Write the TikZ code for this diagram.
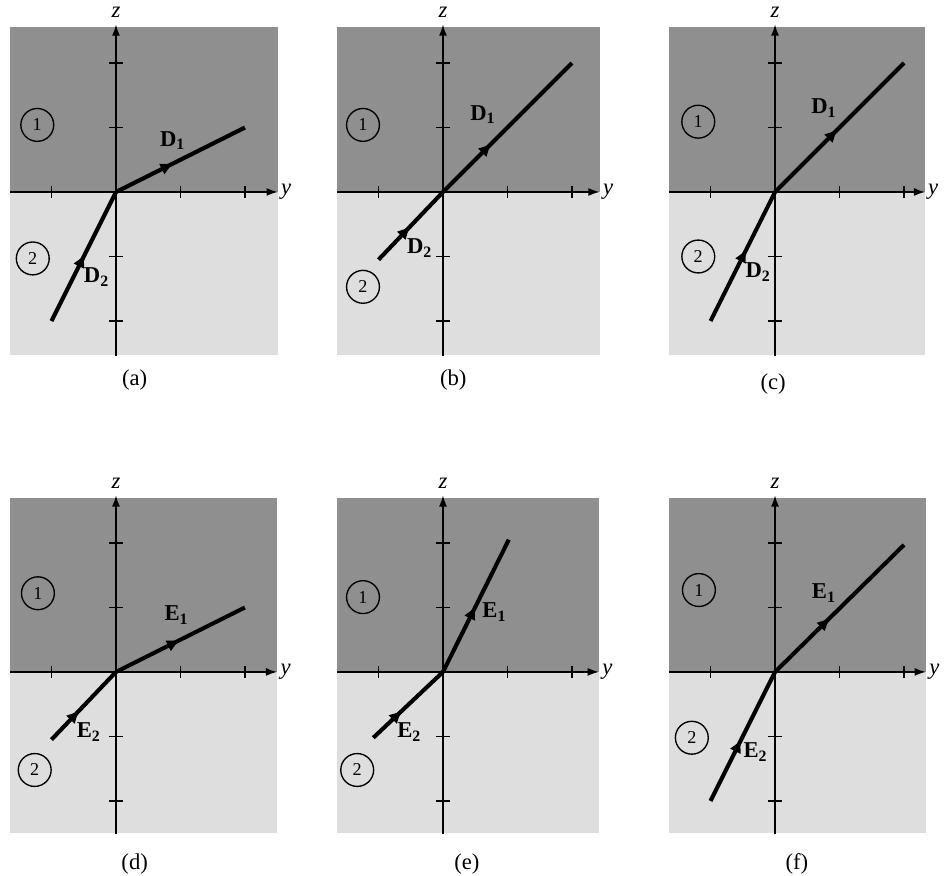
\documentclass[tikz,border=0pt]{standalone}
\usepackage{fontspec}
\setmainfont{Liberation Serif}
\usetikzlibrary{arrows.meta,decorations.markings}

\definecolor{medone}{gray}{0.56}
\definecolor{medtwo}{gray}{0.87}

\tikzset{
  axis/.style={line width=0.75pt, -{Latex[length=5pt,width=3.5pt]}},
  tickmark/.style={line width=0.6pt},
  fline/.style={line width=1.8pt, postaction={decorate},
    decoration={markings, mark=at position #1 with {\arrow{Latex[length=6pt,width=5.5pt]}}}},
  fline/.default=0.5,
  axlabel/.style={font=\itshape, inner sep=1pt},
  vec/.style={font=\bfseries, inner sep=1pt},
  region/.style={draw, circle, line width=0.6pt, minimum size=14.5pt, inner sep=0pt, font=\footnotesize},
  caption/.style={inner sep=1pt}
}

\begin{document}
\begin{tikzpicture}
  \useasboundingbox (0,0) rectangle (14.729,13.581);

  % panel (a)
  \begin{scope}[shift={(1.798,10.604)}]
    \fill[medone] (-1.64,0) rectangle (2.51,2.56);
    \fill[medtwo] (-1.64,-2.53) rectangle (2.51,0);
    \draw[axis] (-1.64,0) -- (2.51,0);
    \draw[axis] (0,-2.55) -- (0,2.6);
    \foreach \t in {-1,1,2} \draw[tickmark] (\t,-0.09) -- (\t,0.09);
    \foreach \t in {-2,-1,1,2} \draw[tickmark] (-0.11,\t) -- (0.11,\t);
    \node[axlabel] (a-y) at (2.64,0) {y};
    \node[axlabel] (a-z) at (0,2.79) {z};
    \coordinate (a-o) at (0,0);
    \coordinate (a-s) at (-1,-2);
    \coordinate (a-e) at (2,1);
    \draw[fline=0.52] (a-s) -- (a-o);
    \draw[fline=0.45] (a-o) -- (a-e);
    \node[vec] (a-d1) at (0.88,0.8) {D\textsubscript{1}};
    \node[vec] (a-d2) at (-0.3,-1.32) {D\textsubscript{2}};
    \node[region] (a-r1) at (-1.22,1.04) {1};
    \node[region] (a-r2) at (-1.29,-1.03) {2};
    \node[caption] (a-cap) at (0.29,-2.91) {(a)};
  \end{scope}

  % panel (b)
  \begin{scope}[shift={(6.868,10.604)}]
    \fill[medone] (-1.64,0) rectangle (2.43,2.56);
    \fill[medtwo] (-1.64,-2.53) rectangle (2.43,0);
    \draw[axis] (-1.64,0) -- (2.43,0);
    \draw[axis] (0,-2.55) -- (0,2.6);
    \foreach \t in {-1,1,2} \draw[tickmark] (\t,-0.09) -- (\t,0.09);
    \foreach \t in {-2,-1,1,2} \draw[tickmark] (-0.11,\t) -- (0.11,\t);
    \node[axlabel] (b-y) at (2.56,0) {y};
    \node[axlabel] (b-z) at (0,2.79) {z};
    \coordinate (b-o) at (0,0);
    \coordinate (b-s) at (-1,-1.05);
    \coordinate (b-e) at (2,2);
    \draw[fline=0.5] (b-s) -- (b-o);
    \draw[fline=0.38] (b-o) -- (b-e);
    \node[vec] (b-d1) at (0.62,1.2) {D\textsubscript{1}};
    \node[vec] (b-d2) at (-0.36,-0.87) {D\textsubscript{2}};
    \node[region] (b-r1) at (-1.24,1.04) {1};
    \node[region] (b-r2) at (-1.24,-1.47) {2};
    \node[caption] (b-cap) at (0.16,-2.91) {(b)};
  \end{scope}

  % panel (c)
  \begin{scope}[shift={(12.016,10.604)}]
    \fill[medone] (-1.64,0) rectangle (2.33,2.56);
    \fill[medtwo] (-1.64,-2.53) rectangle (2.33,0);
    \draw[axis] (-1.64,0) -- (2.33,0);
    \draw[axis] (0,-2.55) -- (0,2.6);
    \foreach \t in {-1,1,2} \draw[tickmark] (\t,-0.09) -- (\t,0.09);
    \foreach \t in {-2,-1,1,2} \draw[tickmark] (-0.11,\t) -- (0.11,\t);
    \node[axlabel] (c-y) at (2.45,0) {y};
    \node[axlabel] (c-z) at (0,2.79) {z};
    \coordinate (c-o) at (0,0);
    \coordinate (c-s) at (-1,-2);
    \coordinate (c-e) at (2,2);
    \draw[fline=0.56] (c-s) -- (c-o);
    \draw[fline=0.49] (c-o) -- (c-e);
    \node[vec] (c-d1) at (0.76,1.3) {D\textsubscript{1}};
    \node[vec] (c-d2) at (-0.26,-1.24) {D\textsubscript{2}};
    \node[region] (c-r1) at (-1.19,1.09) {1};
    \node[region] (c-r2) at (-1.19,-1.0) {2};
    \node[caption] (c-cap) at (-0.03,-2.98) {(c)};
  \end{scope}

  % panel (d)
  \begin{scope}[shift={(1.798,3.163)}]
    \fill[medone] (-1.64,0) rectangle (2.5,2.7);
    \fill[medtwo] (-1.64,-2.5) rectangle (2.5,0);
    \draw[axis] (-1.64,0) -- (2.5,0);
    \draw[axis] (0,-2.52) -- (0,2.74);
    \foreach \t in {-1,1,2} \draw[tickmark] (\t,-0.09) -- (\t,0.09);
    \foreach \t in {-2,-1,1,2} \draw[tickmark] (-0.11,\t) -- (0.11,\t);
    \node[axlabel] (d-y) at (2.63,0) {y};
    \node[axlabel] (d-z) at (0,2.93) {z};
    \coordinate (d-o) at (0,0);
    \coordinate (d-s) at (-1,-1.05);
    \coordinate (d-e) at (2,1);
    \draw[fline=0.44] (d-s) -- (d-o);
    \draw[fline=0.5] (d-o) -- (d-e);
    \node[vec] (d-e1) at (0.94,0.88) {E\textsubscript{1}};
    \node[vec] (d-e2) at (-0.42,-0.93) {E\textsubscript{2}};
    \node[region] (d-r1) at (-1.21,1.22) {1};
    \node[region] (d-r2) at (-1.26,-1.52) {2};
    \node[caption] (d-cap) at (0.29,-2.98) {(d)};
  \end{scope}

  % panel (e)
  \begin{scope}[shift={(6.868,3.163)}]
    \fill[medone] (-1.64,0) rectangle (2.42,2.7);
    \fill[medtwo] (-1.64,-2.5) rectangle (2.42,0);
    \draw[axis] (-1.64,0) -- (2.42,0);
    \draw[axis] (0,-2.52) -- (0,2.74);
    \foreach \t in {-1,1,2} \draw[tickmark] (\t,-0.09) -- (\t,0.09);
    \foreach \t in {-2,-1,1,2} \draw[tickmark] (-0.11,\t) -- (0.11,\t);
    \node[axlabel] (e-y) at (2.55,0) {y};
    \node[axlabel] (e-z) at (0,2.93) {z};
    \coordinate (e-o) at (0,0);
    \coordinate (e-s) at (-1.08,-1.02);
    \coordinate (e-e) at (1.02,2.05);
    \draw[fline=0.42] (e-s) -- (e-o);
    \draw[fline=0.5] (e-o) -- (e-e);
    \node[vec] (e-e1) at (0.8,0.93) {E\textsubscript{1}};
    \node[vec] (e-e2) at (-0.52,-0.93) {E\textsubscript{2}};
    \node[region] (e-r1) at (-1.24,1.16) {1};
    \node[region] (e-r2) at (-1.33,-1.52) {2};
    \node[caption] (e-cap) at (0.37,-2.98) {(e)};
  \end{scope}

  % panel (f)
  \begin{scope}[shift={(12.016,3.163)}]
    \fill[medone] (-1.64,0) rectangle (2.34,2.7);
    \fill[medtwo] (-1.64,-2.5) rectangle (2.34,0);
    \draw[axis] (-1.64,0) -- (2.34,0);
    \draw[axis] (0,-2.52) -- (0,2.74);
    \foreach \t in {-1,1,2} \draw[tickmark] (\t,-0.09) -- (\t,0.09);
    \foreach \t in {-2,-1,1,2} \draw[tickmark] (-0.11,\t) -- (0.11,\t);
    \node[axlabel] (f-y) at (2.47,0) {y};
    \node[axlabel] (f-z) at (0,2.93) {z};
    \coordinate (f-o) at (0,0);
    \coordinate (f-s) at (-1,-2);
    \coordinate (f-e) at (2,1.97);
    \draw[fline=0.48] (f-s) -- (f-o);
    \draw[fline=0.43] (f-o) -- (f-e);
    \node[vec] (f-e1) at (0.76,1.22) {E\textsubscript{1}};
    \node[vec] (f-e2) at (-0.3,-1.24) {E\textsubscript{2}};
    \node[region] (f-r1) at (-1.18,1.27) {1};
    \node[region] (f-r2) at (-1.29,-1.02) {2};
    \node[caption] (f-cap) at (0.34,-2.98) {(f)};
  \end{scope}
\end{tikzpicture}
\end{document}
